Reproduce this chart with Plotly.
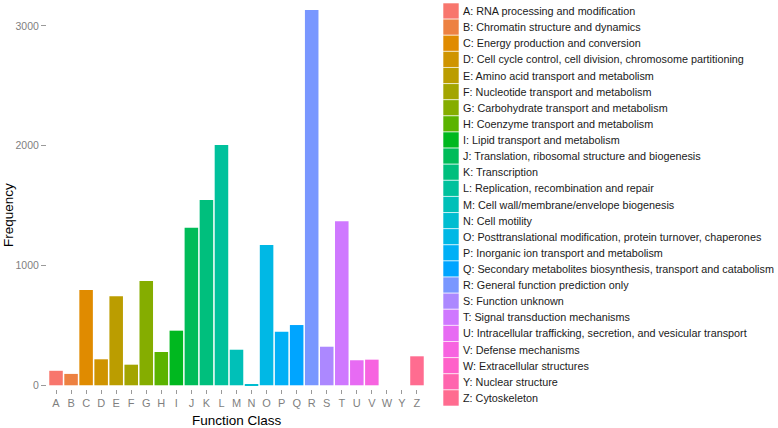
import math
import plotly.graph_objects as go

# ---- data ----
classes = ["A", "B", "C", "D", "E", "F", "G", "H", "I", "J", "K", "L", "M",
           "N", "O", "P", "Q", "R", "S", "T", "U", "V", "W", "Y", "Z"]
frequency = [121, 95, 795, 217, 743, 172, 871, 278, 456, 1316, 1547, 2006, 297,
             11, 1171, 447, 503, 3133, 322, 1370, 209, 214, 0, 0, 242]
descriptions = [
    "RNA processing and modification",
    "Chromatin structure and dynamics",
    "Energy production and conversion",
    "Cell cycle control, cell division, chromosome partitioning",
    "Amino acid transport and metabolism",
    "Nucleotide transport and metabolism",
    "Carbohydrate transport and metabolism",
    "Coenzyme transport and metabolism",
    "Lipid transport and metabolism",
    "Translation, ribosomal structure and biogenesis",
    "Transcription",
    "Replication, recombination and repair",
    "Cell wall/membrane/envelope biogenesis",
    "Cell motility",
    "Posttranslational modification, protein turnover, chaperones",
    "Inorganic ion transport and metabolism",
    "Secondary metabolites biosynthesis, transport and catabolism",
    "General function prediction only",
    "Function unknown",
    "Signal transduction mechanisms",
    "Intracellular trafficking, secretion, and vesicular transport",
    "Defense mechanisms",
    "Extracellular structures",
    "Nuclear structure",
    "Cytoskeleton",
]
y_ticks = [0, 1000, 2000, 3000]


# ---- ggplot-like hue palette (HCL) ----
def hcl_to_hex(h, c=100.0, l=65.0):
    hr = math.radians(h)
    u = c * math.cos(hr)
    v = c * math.sin(hr)
    Xn, Yn, Zn = 95.047, 100.0, 108.883
    Y = Yn * ((l + 16) / 116) ** 3 if l > 8 else Yn * l / 903.3
    un = 4 * Xn / (Xn + 15 * Yn + 3 * Zn)
    vn = 9 * Yn / (Xn + 15 * Yn + 3 * Zn)
    up = u / (13 * l) + un
    vp = v / (13 * l) + vn
    X = Y * 9 * up / (4 * vp)
    Z = Y * (12 - 3 * up - 20 * vp) / (4 * vp)
    X, Y, Z = X / 100, Y / 100, Z / 100
    r = 3.2404542 * X - 1.5371385 * Y - 0.4985314 * Z
    g = -0.9692660 * X + 1.8760108 * Y + 0.0415560 * Z
    b = 0.0556434 * X - 0.2040259 * Y + 1.0572252 * Z

    def gam(t):
        t = 12.92 * t if t <= 0.0031308 else 1.055 * t ** (1 / 2.4) - 0.055
        return max(0, min(255, round(t * 255)))
    return "#%02X%02X%02X" % (gam(r), gam(g), gam(b))


n = len(classes)
colors = [hcl_to_hex(15 + i * 360 / n) for i in range(n)]

W, H = 778, 428
L_M, R_EDGE, T_M, B_EDGE = 47, 426, 0, 389


def px_x(px):
    return (px - L_M) / (R_EDGE - L_M)


def px_y(py):
    return (B_EDGE - py) / (B_EDGE - T_M)


FONT = "Liberation Sans, Arial, Helvetica, sans-serif"

fig = go.Figure()
fig.add_trace(go.Bar(
    x=classes, y=frequency, marker=dict(color=colors, line=dict(width=0)),
    width=0.9, showlegend=False,
))

# legend (manual, ggplot style)
key_top = 3.0
key_h = 16.12
for i, (c, d) in enumerate(zip(classes, descriptions)):
    y0 = key_top + i * key_h
    fig.add_shape(type="rect", xref="paper", yref="paper",
                  x0=px_x(443), x1=px_x(459), y0=px_y(y0 + key_h), y1=px_y(y0),
                  fillcolor=colors[i], line=dict(color="white", width=0.6))
    fig.add_annotation(xref="paper", yref="paper", x=px_x(461), y=px_y(y0 + key_h / 2),
                       text=f"{c}: {d}", showarrow=False, xanchor="left", yanchor="middle",
                       font=dict(size=10.8, color="#1a1a1a", family=FONT))

# axis titles
fig.add_annotation(xref="paper", yref="paper", x=px_x(237), y=px_y(420),
                   text="Function Class", showarrow=False, xanchor="center", yanchor="middle",
                   font=dict(size=13.5, color="black", family=FONT))
fig.add_annotation(xref="paper", yref="paper", x=px_x(8), y=px_y(215),
                   text="Frequency", showarrow=False, textangle=-90, xanchor="center", yanchor="middle",
                   font=dict(size=13.5, color="black", family=FONT))

fig.update_layout(
    width=W, height=H,
    margin=dict(l=L_M, r=W - R_EDGE, t=T_M, b=H - B_EDGE),
    plot_bgcolor="white", paper_bgcolor="white",
    bargap=0.1,
    font=dict(family=FONT, color="#7f7f7f", size=11),
    xaxis=dict(
        categoryorder="array", categoryarray=classes, range=[-0.6, n - 0.4],
        showgrid=False, zeroline=False, showline=False,
        ticks="outside", ticklen=4, tickcolor="#9a9a9a", tickwidth=1,
        tickfont=dict(size=11, color="#7f7f7f"),
    ),
    yaxis=dict(
        range=[-31, 3217], tickvals=y_ticks, ticktext=[str(v) for v in y_ticks],
        showgrid=False, zeroline=False, showline=False,
        ticks="outside", ticklen=5, tickcolor="#9a9a9a", tickwidth=1,
        tickfont=dict(size=10.5, color="#7f7f7f"),
    ),
)

fig.write_html(
    "out.html",
    config={"displayModeBar": False},
    post_script="document.body.style.margin='0';document.body.style.overflow='hidden';",
)
